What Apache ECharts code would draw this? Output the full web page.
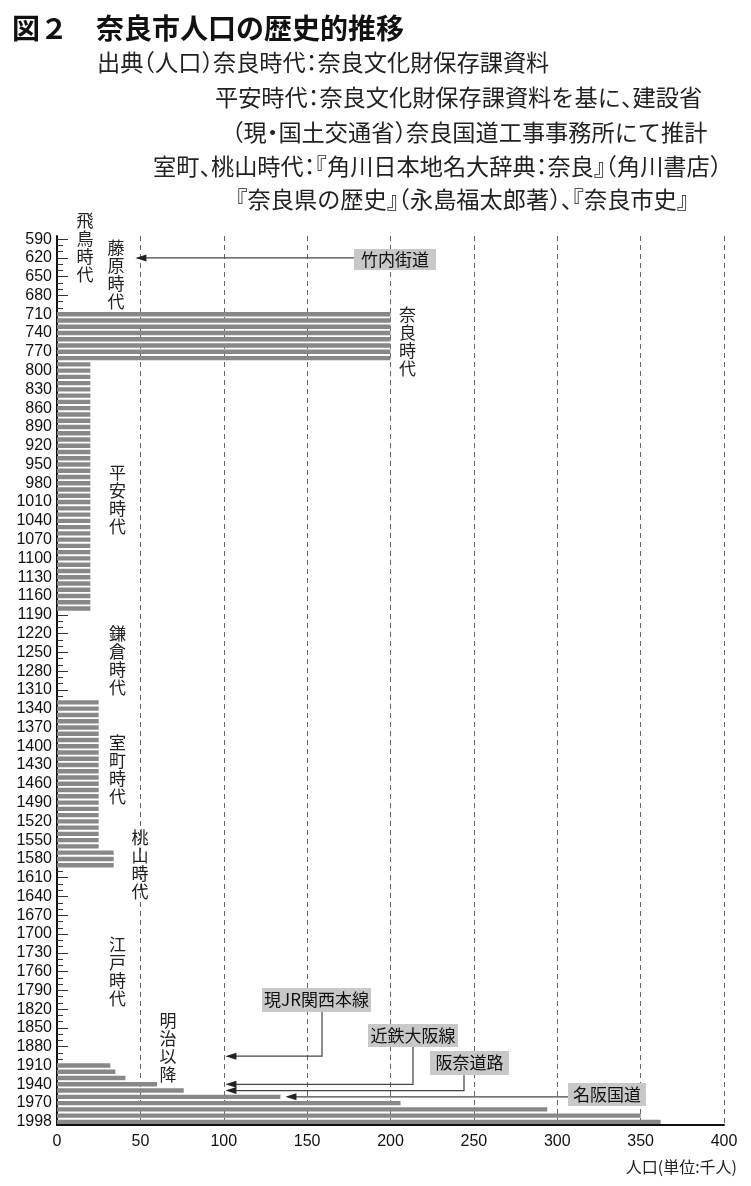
<!DOCTYPE html>
<html lang="ja">
<head>
<meta charset="UTF-8">
<title>奈良市人口の歴史的推移</title>
<script src="https://cdn.jsdelivr.net/npm/echarts@6/dist/echarts.min.js"></script>
<style>
  html, body { margin: 0; padding: 0; background: #fff; }
  #chart { width: 751px; height: 1186px; }
</style>
</head>
<body>
<div id="chart"></div>
<script>
  // 年（10年刻み、最後だけ1998）
  const years = [
    '590','600','610','620','630','640','650','660','670','680','690','700',
    '710','720','730','740','750','760','770','780',
    '790','800','810','820','830','840','850','860','870','880',
    '890','900','910','920','930','940','950','960','970','980',
    '990','1000','1010','1020','1030','1040','1050','1060','1070','1080',
    '1090','1100','1110','1120','1130','1140','1150','1160','1170','1180',
    '1190','1200','1210','1220','1230','1240','1250','1260','1270','1280','1290','1300','1310','1320',
    '1330','1340','1350','1360','1370','1380','1390','1400','1410','1420','1430','1440',
    '1450','1460','1470','1480','1490','1500','1510','1520','1530','1540','1550','1560',
    '1570','1580','1590',
    '1600','1610','1620','1630','1640','1650','1660','1670','1680','1690','1700',
    '1710','1720','1730','1740','1750','1760','1770','1780','1790','1800',
    '1810','1820','1830','1840','1850','1860','1870','1880','1890','1900',
    '1910','1920','1930','1940','1950','1960','1970','1980','1990','1998'
  ];

  // 人口（千人）
  const population = [
    0,0,0,0,0,0,0,0,0,0,0,0,
    200,200,200,200,200,200,200,200,
    20,20,20,20,20,20,20,20,20,20,
    20,20,20,20,20,20,20,20,20,20,
    20,20,20,20,20,20,20,20,20,20,
    20,20,20,20,20,20,20,20,20,20,
    0,0,0,0,0,0,0,0,0,0,0,0,0,0,
    25,25,25,25,25,25,25,25,25,25,25,25,
    25,25,25,25,25,25,25,25,25,25,25,25,
    34,34,34,
    0,0,0,0,0,0,0,0,0,0,0,
    0,0,0,0,0,0,0,0,0,0,
    0,0,0,0,0,0,0,0,0,0,
    32,35,41,60,76,134,206,294,350,362
  ];

  const xTicks = [0, 50, 100, 150, 200, 250, 300, 350, 400];

  const periods = ['飛鳥時代','藤原時代','奈良時代','平安時代','鎌倉時代','室町時代','桃山時代','江戸時代','明治以降'];
  // 中心x, 1文字目の中心y
  const periodPos = [[85,221],[116,248],[407.5,315],[117.5,473],[117.5,634],[117.5,743],[140,838],[117.5,945],[168,1021]];

  const roads = ['竹内街道','現JR関西本線','近鉄大阪線','阪奈道路','名阪国道'];
  const roadYears = [620, 1895, 1940, 1950, 1960];
  const roadTips = [47, 101, 101, 101, 137];
  // 箱: 中心x, 中心y, 幅, 高さ, 縦線のx(null=横線のみ)
  const roadBoxes = [
    [395, 259.5, 82, 21, null],
    [316.5, 1000, 109, 24, 322],
    [413, 1035.5, 90, 23, 413],
    [469.5, 1063, 79, 24, 464],
    [607, 1094.5, 78, 23, null]
  ];

  const sources = [
    '出典（人口）奈良時代：奈良文化財保存課資料',
    '平安時代：奈良文化財保存課資料を基に、建設省',
    '（現・国土交通省）奈良国道工事事務所にて推計',
    '室町、桃山時代：『角川日本地名大辞典：奈良』（角川書店）',
    '『奈良県の歴史』（永島福太郎著）、『奈良市史』'
  ];
  const sourcePos = [[97,62],[215,97],[232,132],[153,166],[236,199]];

  const CJK = '"Noto Sans CJK JP", sans-serif';
  const LAT = '"Liberation Sans", Arial, sans-serif';
  const showLabel = (i) => i % 3 === 0 || i === years.length - 1;

  const chart = echarts.init(document.getElementById('chart'));

  chart.setOption({
    animation: false,
    grid: { left: 57, right: 27, top: 236, bottom: 61, containLabel: false },
    xAxis: {
      type: 'value', min: 0, max: 400, interval: 50,
      axisLine: { show: true, lineStyle: { color: '#111', width: 2 } },
      axisTick: { show: false },
      axisLabel: { fontSize: 16, fontFamily: LAT, color: '#111', margin: 9,
                   formatter: v => xTicks.includes(v) ? String(v) : '' },
      splitLine: { show: true, lineStyle: { color: '#666', width: 1, type: [5, 4] } }
    },
    yAxis: [{
      type: 'category', data: years, inverse: true,
      axisLine: { show: true, lineStyle: { color: '#111', width: 2 } },
      axisTick: { show: true, inside: true, alignWithLabel: true, interval: 0, length: 6,
                  lineStyle: { color: '#333', width: 1 } },
      axisLabel: { interval: showLabel, fontSize: 16, fontFamily: LAT, color: '#111', margin: 5 },
      splitLine: { show: false }
    }, {
      type: 'category', data: years, inverse: true, position: 'left',
      axisLine: { show: false },
      axisTick: { show: true, inside: true, alignWithLabel: true, interval: showLabel, length: 11,
                  lineStyle: { color: '#333', width: 1 } },
      axisLabel: { show: false },
      splitLine: { show: false }
    }],
    series: [{
      type: 'bar', yAxisIndex: 0, data: population,
      barWidth: 4.4,
      itemStyle: { color: '#888888' },
      z: 3
    }]
  });

  // 年→ピクセル（カテゴリ間は線形補間）
  const y0 = chart.convertToPixel({ yAxisIndex: 0 }, years[0]);
  const band = chart.convertToPixel({ yAxisIndex: 0 }, years[1]) - y0;
  function yOf(year) {
    const idx = year <= 1990 ? (year - 590) / 10 : 140 + (year - 1990) / 8;
    return y0 + idx * band;
  }

  const g = [];
  const txt = (s, x, y, fs, extra) => ({ type: 'text', z: 20, style: Object.assign({ text: s, x: x, y: y,
    textVerticalAlign: 'middle', fontSize: fs, fontFamily: CJK, fill: '#222' }, extra || {}) });

  // 約物を半角幅で詰める（プロポーショナル組み風）
  const openP = '『（「', closeP = '』）」、', midP = '：・';
  function layoutLine(str, x, y, fs) {
    let run = '', runX = x, cx = x;
    const flush = () => { if (run) { g.push(txt(run, runX, y, fs)); run = ''; } };
    for (const ch of str) {
      if (openP.includes(ch) || closeP.includes(ch) || midP.includes(ch)) {
        flush();
        const off = openP.includes(ch) ? -fs / 2 : midP.includes(ch) ? -fs / 4 : 0;
        g.push(txt(ch, cx + off, y, fs));
        cx += fs / 2;
      } else {
        if (!run) runX = cx;
        run += ch;
        cx += fs;
      }
    }
    flush();
  }

  // タイトル
  g.push(txt('図２', 12, 28, 28, { fontWeight: 'bold', fill: '#111' }));
  g.push(txt('奈良市人口の歴史的推移', 96, 28, 28, { fontWeight: 'bold', fill: '#111' }));
  sources.forEach((s, i) => layoutLine(s, sourcePos[i][0], sourcePos[i][1], 23.2));

  // 時代名（縦書き）
  const lh = 17.8;
  periods.forEach((p, i) => {
    g.push(txt(p.split('').join('\n'), periodPos[i][0], periodPos[i][1] - lh / 2, 17,
      { textAlign: 'center', textVerticalAlign: 'top', lineHeight: lh }));
  });

  // 道路・鉄道の注記
  roads.forEach((r, i) => {
    const [cx, cy, w, h, vx] = roadBoxes[i];
    const y = yOf(roadYears[i]);
    const tx = chart.convertToPixel({ xAxisIndex: 0 }, roadTips[i]);
    const pts = vx === null ? [[cx - w / 2, y], [tx + 8, y]] : [[vx, cy + h / 2], [vx, y], [tx + 8, y]];
    g.push({ type: 'polyline', z: 15, shape: { points: pts }, style: { stroke: '#444', lineWidth: 1.2, fill: null } });
    g.push({ type: 'polygon', z: 16, shape: { points: [[tx, y], [tx + 11, y - 3.5], [tx + 11, y + 3.5]] },
      style: { fill: '#222' } });
    g.push({ type: 'rect', z: 17, shape: { x: cx - w / 2, y: cy - h / 2, width: w, height: h }, style: { fill: '#c8c8c8' } });
    g.push(txt(r, cx, cy, 17, { textAlign: 'center', fill: '#111', z: 18 }));
  });

  // 軸名
  g.push(txt('人口(単位:千人)', 737, 1167, 16, { textAlign: 'right' }));

  chart.setOption({ graphic: g });
</script>
</body>
</html>
